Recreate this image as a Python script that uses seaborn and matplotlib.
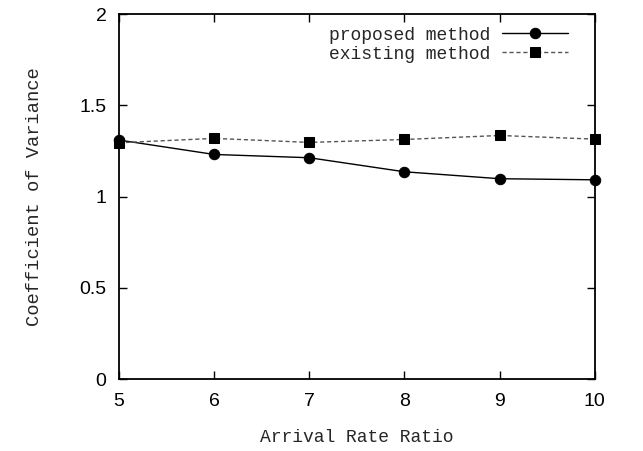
import matplotlib
matplotlib.use("Agg")
import matplotlib.pyplot as plt
import seaborn as sns
import pandas as pd

arrival_ratio = [5, 6, 7, 8, 9, 10]
proposed = [1.31, 1.231, 1.213, 1.136, 1.098, 1.092]
existing = [1.295, 1.319, 1.297, 1.313, 1.335, 1.315]
series_names = ["proposed method", "existing method"]
x_ticks = [5, 6, 7, 8, 9, 10]
y_ticks = [0, 0.5, 1, 1.5, 2]
y_tick_labels = ["0", "0.5", "1", "1.5", "2"]

sns.set_style("ticks")
plt.rcParams['font.family'] = ['Liberation Sans', 'DejaVu Sans']

fig = plt.figure(figsize=(6.43, 4.51), dpi=100)
ax = fig.add_axes([0.185, 0.1596, 0.740, 0.809])

df = pd.DataFrame({"x": arrival_ratio * 2,
                   "y": proposed + existing,
                   "s": [series_names[0]] * 6 + [series_names[1]] * 6})

sns.lineplot(data=df[df.s == series_names[0]], x="x", y="y", ax=ax,
             color="black", lw=1.0, marker="o", markersize=7.5,
             markeredgecolor="black", label=series_names[0])
sns.lineplot(data=df[df.s == series_names[1]], x="x", y="y", ax=ax,
             color="#555555", lw=1.0, linestyle=(0, (3, 2)), marker="s",
             markersize=7.5, markerfacecolor="black", markeredgecolor="black",
             label=series_names[1])

ax.set_xlim(5, 10)
ax.set_ylim(0, 2)
ax.set_xticks(x_ticks)
ax.set_yticks(y_ticks)
ax.set_yticklabels(y_tick_labels)
for lbl in ax.get_xticklabels() + ax.get_yticklabels():
    lbl.set_fontsize(14)
ax.tick_params(direction="in", length=6, width=1, top=True, right=True,
               colors="black")
ax.tick_params(axis="x", pad=10)
ax.tick_params(axis="y", pad=9)
for sp in ax.spines.values():
    sp.set_linewidth(1.3)
    sp.set_color("black")

mono = {"family": "Liberation Mono", "size": 13}
ax.set_xlabel("Arrival Rate Ratio", fontdict=mono, labelpad=14)
ax.set_ylabel("Coefficient of Variance", fontdict={"family": "Liberation Mono", "size": 13.5},
              labelpad=26)

for ln in ax.get_lines():
    ln.set_clip_on(False)

leg = ax.legend(loc="upper right", bbox_to_anchor=(0.971, 1.0), frameon=False,
                markerfirst=False,
                prop={"family": "Liberation Mono", "size": 13},
                handlelength=3.7, handletextpad=0.6, borderaxespad=0.3,
                labelspacing=0.1)

fig.savefig("out.png", dpi=100)
